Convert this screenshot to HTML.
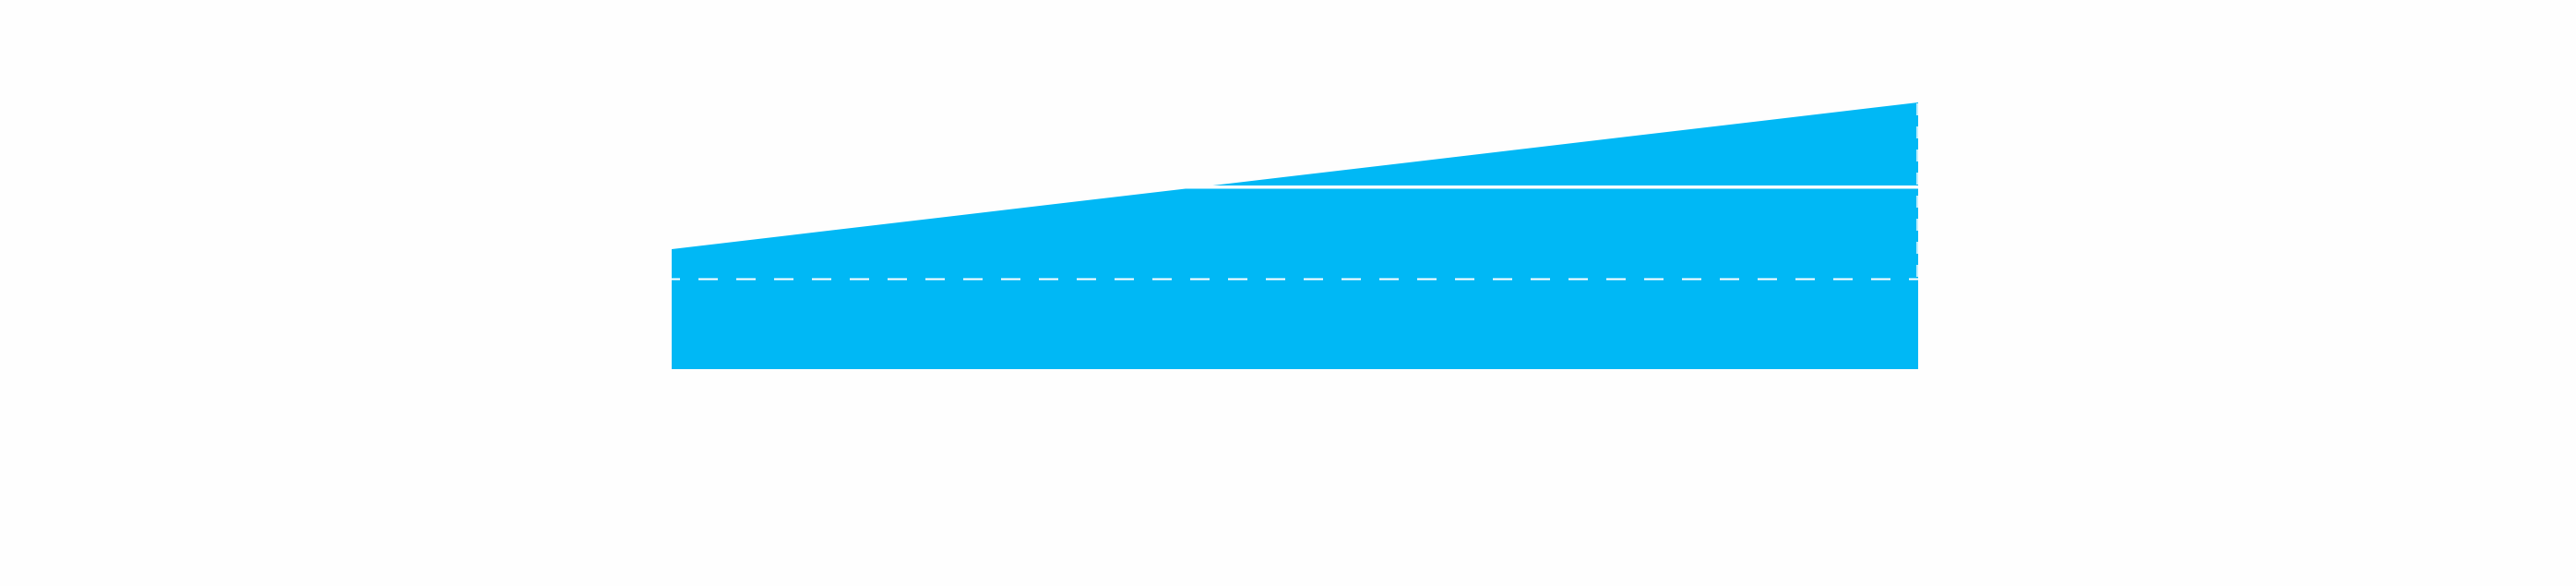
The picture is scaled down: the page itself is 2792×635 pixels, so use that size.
<!DOCTYPE html>
<html><head><style>html,body{margin:0;padding:0;background:#fefefe;}svg{display:block}</style></head>
<body>
<svg width="2792" height="635" viewBox="0 0 2792 635" xmlns="http://www.w3.org/2000/svg">
<rect width="2792" height="635" fill="#fefefe"/>
<polygon points="728,270 2079,111 2079,400 728,400" fill="#00b8f5"/>
<rect x="1280" y="201" width="800" height="3.5" fill="#fefefe"/>
<line x1="728" y1="302.5" x2="2079" y2="302.5" stroke="#fff" stroke-width="2" stroke-dasharray="21,20" stroke-dashoffset="12"/>
<line x1="2078" y1="112" x2="2078" y2="300" stroke="#fff" stroke-width="1.5" stroke-dasharray="13,12"/>
</svg>
</body></html>
